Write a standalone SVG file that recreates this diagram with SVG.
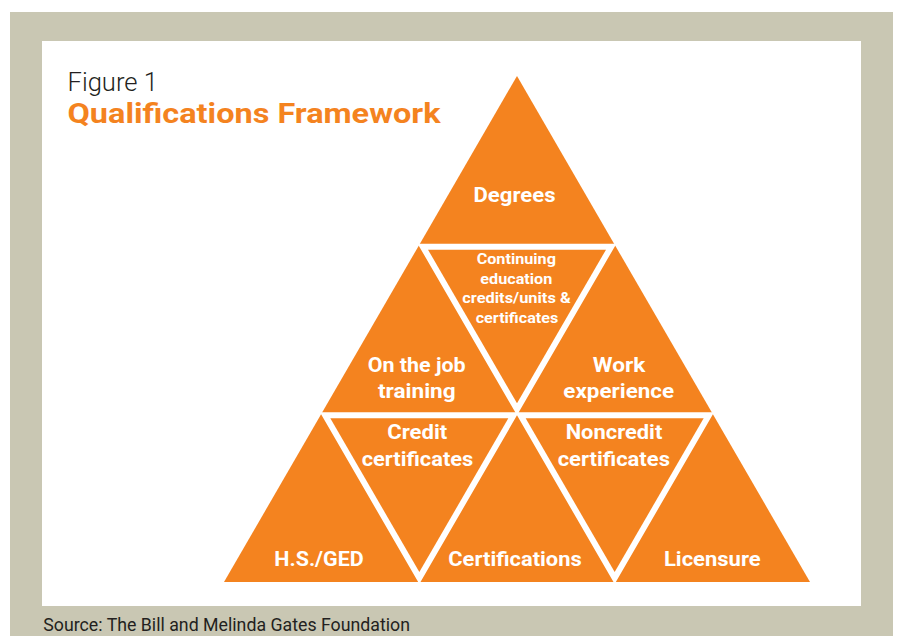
<svg xmlns="http://www.w3.org/2000/svg" width="897" height="636" viewBox="0 0 897 636">
  <style>
    .tri { fill: #F4831F; }
    .gap { fill: #FFFFFF; stroke: #FFFFFF; stroke-width: 2; stroke-linejoin: miter; }
    .lbl { font-family: Roboto, "Liberation Sans", Arial, sans-serif; font-weight: 700; fill: #FFFFFF; text-anchor: middle; }
    .big { font-size: 20px; }
    .small { font-size: 14px; }
  </style>

  <!-- page frame -->
  <rect x="0" y="0" width="897" height="636" fill="#FFFFFF"/>
  <rect x="10" y="12" width="883" height="624" fill="#C9C7B3"/>
  <rect x="42" y="41" width="819" height="565" fill="#FFFFFF"/>

  <!-- heading -->
  <text x="67.5" y="90.5" font-family="Roboto, 'Liberation Sans', Arial, sans-serif" font-weight="300" font-size="25" fill="#231F20" textLength="90.5" lengthAdjust="spacingAndGlyphs">Figure 1</text>
  <text x="67.5" y="123" font-family="Roboto, 'Liberation Sans', Arial, sans-serif" font-weight="700" font-size="28" fill="#F4831F" textLength="373" lengthAdjust="spacingAndGlyphs">Qualifications Framework</text>

  <!-- connectors: none, the pyramid tiles touch directly -->
  <g id="connectors"/>

  <!-- upright tiles -->
  <g id="degrees">
    <polygon class="tri" points="517,76 419.33,244.67 614.67,244.67"/>
    <text class="lbl" x="514.5" y="201.7" font-size="21" textLength="82" lengthAdjust="spacingAndGlyphs">Degrees</text>
  </g>
  <g id="on-the-job-training">
    <polygon class="tri" points="419.33,244.67 321.67,413.33 517,413.33"/>
    <text class="lbl big" x="416.7" y="371.7" textLength="98" lengthAdjust="spacingAndGlyphs">On the job</text>
    <text class="lbl big" x="416.8" y="397.7" textLength="77.7" lengthAdjust="spacingAndGlyphs">training</text>
  </g>
  <g id="work-experience">
    <polygon class="tri" points="614.67,244.67 517,413.33 712.33,413.33"/>
    <text class="lbl big" x="619" y="371.7" textLength="52.6" lengthAdjust="spacingAndGlyphs">Work</text>
    <text class="lbl big" x="618.7" y="397.7" textLength="110.7" lengthAdjust="spacingAndGlyphs">experience</text>
  </g>
  <g id="hs-ged">
    <polygon class="tri" points="321.67,413.33 224,582 419.33,582"/>
    <text class="lbl big" x="319" y="566" textLength="89.4" lengthAdjust="spacingAndGlyphs">H.S./GED</text>
  </g>
  <g id="certifications">
    <polygon class="tri" points="517,413.33 419.33,582 614.67,582"/>
    <text class="lbl big" x="515" y="566" textLength="133.4" lengthAdjust="spacingAndGlyphs">Certifications</text>
  </g>
  <g id="licensure">
    <polygon class="tri" points="712.33,413.33 614.67,582 810,582"/>
    <text class="lbl big" x="712.3" y="566" textLength="96.7" lengthAdjust="spacingAndGlyphs">Licensure</text>
  </g>

  <!-- inverted tiles: white rim with an inset orange face -->
  <g id="continuing-education">
    <polygon class="gap" points="419.33,244.67 614.67,244.67 517,413.33"/>
    <polygon class="tri" points="428,249.66 606,249.66 517,403.36"/>
    <text class="lbl small" x="516.3" y="264" textLength="79.3" lengthAdjust="spacingAndGlyphs">Continuing</text>
    <text class="lbl small" x="516.3" y="283.5" textLength="72" lengthAdjust="spacingAndGlyphs">education</text>
    <text class="lbl small" x="516.5" y="303" textLength="108.4" lengthAdjust="spacingAndGlyphs">credits/units &amp;</text>
    <text class="lbl small" x="517" y="322.5" textLength="82.6" lengthAdjust="spacingAndGlyphs">certificates</text>
  </g>
  <g id="credit-certificates">
    <polygon class="gap" points="321.67,413.33 517,413.33 419.33,582"/>
    <polygon class="tri" points="330.33,418.33 508.33,418.33 419.33,572.03"/>
    <text class="lbl big" x="417.3" y="439.3" textLength="60" lengthAdjust="spacingAndGlyphs">Credit</text>
    <text class="lbl big" x="417.5" y="466" textLength="111.6" lengthAdjust="spacingAndGlyphs">certificates</text>
  </g>
  <g id="noncredit-certificates">
    <polygon class="gap" points="517,413.33 712.33,413.33 614.67,582"/>
    <polygon class="tri" points="525.67,418.33 703.67,418.33 614.67,572.03"/>
    <text class="lbl big" x="614" y="439.3" textLength="96.6" lengthAdjust="spacingAndGlyphs">Noncredit</text>
    <text class="lbl big" x="613.8" y="466" textLength="112.3" lengthAdjust="spacingAndGlyphs">certificates</text>
  </g>

  <!-- footer -->
  <text x="43.3" y="631" font-family="Roboto, 'Liberation Sans', Arial, sans-serif" font-size="18" fill="#231F20" textLength="366.7" lengthAdjust="spacingAndGlyphs">Source: The Bill and Melinda Gates Foundation</text>
</svg>
